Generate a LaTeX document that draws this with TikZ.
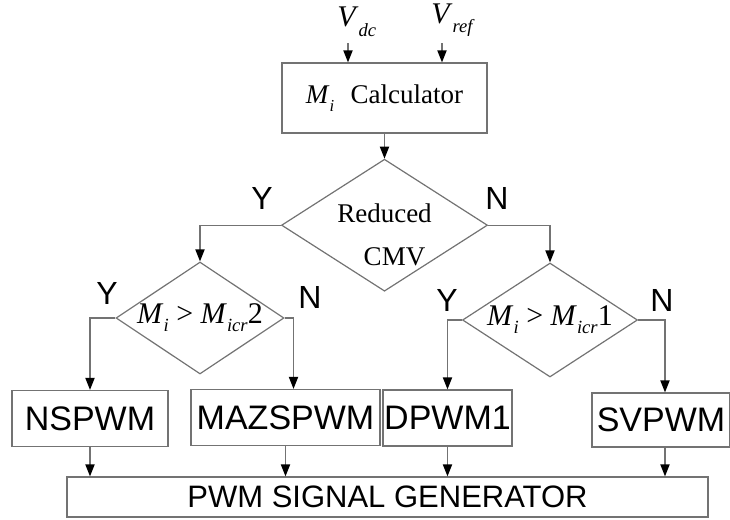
\documentclass[tikz,border=0pt]{standalone}
\usepackage{fontspec}
\setmainfont{Liberation Serif}
\setsansfont{Liberation Sans}
\usetikzlibrary{shapes.geometric,arrows.meta,positioning}
\definecolor{linegray}{RGB}{115,115,115}
\newcommand{\symb}[2]{\textit{#1}\raisebox{-0.6ex}{\scalebox{0.62}{\textit{#2}}}}
\tikzset{
  box/.style={rectangle,draw=linegray,line width=0.6pt,inner sep=0pt,
              font=\sffamily\fontsize{17}{20}\selectfont,minimum height=28pt},
  calcbox/.style={box,font=\fontsize{13.5}{16}\selectfont,minimum width=102.5pt,minimum height=35pt},
  dec/.style={diamond,draw=linegray,line width=0.6pt,inner sep=0pt,align=center,
              font=\fontsize{15}{17}\selectfont},
  yn/.style={font=\sffamily\fontsize{16}{18}\selectfont,inner sep=0pt},
  vin/.style={font=\fontsize{15}{17}\selectfont,inner sep=0pt},
  fl/.style={draw=linegray,line width=0.6pt,-{Triangle[length=6pt,width=4.6pt,color=black,fill=black]}},
}

\begin{document}
\begin{tikzpicture}[x=0.5pt,y=-0.5pt]
  \useasboundingbox (0,0) rectangle (730,520);
  % inputs and index calculator
  \node[calcbox] (calc) at (384.5,98) {\symb{M}{i}\hspace{0.6em}Calculator};
  \node[vin] (vdc) at (348,22) {\textit{V}\rlap{\raisebox{-0.7ex}{\scalebox{0.62}{\textit{dc}}}}};
  \node[vin] (vref) at (442,20) {\textit{V}\rlap{\raisebox{-0.7ex}{\scalebox{0.62}{\textit{ref}}}}};
  % decisions
  \node[dec,below=12.5pt of calc,minimum width=103pt,minimum height=66pt,shape aspect=1.56,
        inner sep=-3pt,font=\fontsize{13.5}{16}\selectfont] (cmv)
    {\rule{0pt}{19pt}Reduced\\[5.5pt]\hspace*{10pt}CMV};
  \node[dec,minimum width=83pt,minimum height=55pt,shape aspect=1.5] (mtwo) at (200,318)
    {\symb{M}{i} > \symb{M}{icr}2};
  \node[dec,minimum width=87.5pt,minimum height=57pt,shape aspect=1.5] (mone) at (550,320)
    {\symb{M}{i} > \symb{M}{icr}1};
  % modulation schemes
  \node[box,minimum width=78pt] (nspwm) at (90,418.5) {NSPWM};
  \node[box,minimum width=94.5pt] (maz) at (285.5,417.5) {MAZSPWM};
  \node[box,minimum width=64.5pt] (dpwm) at (447.5,418) {DPWM1};
  \node[box,minimum width=69pt,minimum height=27pt] (svpwm) at (661,420) {SVPWM};
  \node[box,minimum width=320.5pt,minimum height=20pt,font=\sffamily\fontsize{15.5}{18}\selectfont] (gen)
    at (387.5,497) {PWM SIGNAL GENERATOR};
  % branch labels
  \node[yn] (cmvy) at (262,198) {Y};
  \node[yn] (cmvn) at (497,198) {N};
  \node[yn] (mtwoy) at (107,293) {Y};
  \node[yn] (mtwon) at (310,297) {N};
  \node[yn] (money) at (447,300) {Y};
  \node[yn] (monen) at (662,300) {N};
  % connectors
  \draw[fl] ([yshift=-3pt]vdc.south) -- (vdc.south |- calc.north);
  \draw[fl] ([yshift=-3pt]vref.south) -- (vref.south |- calc.north);
  \draw[fl] (calc.south) -- (calc.south |- cmv.north);
  \draw[fl] (cmv.west) -| (mtwo.north);
  \draw[fl] (cmv.east) -| (mone.north);
  \draw[fl] (mtwo.west) -| (nspwm.north);
  \draw[fl] (mtwo.east) -| ([xshift=4pt]maz.north);
  \draw[fl] (mone.west) -| (dpwm.north);
  \draw[fl] (mone.east) -| ([xshift=2pt]svpwm.north);
  \draw[fl] (nspwm.south) -- (nspwm.south |- gen.north);
  \draw[fl] (maz.south) -- (maz.south |- gen.north);
  \draw[fl] (dpwm.south) -- (dpwm.south |- gen.north);
  \draw[fl] ([xshift=2pt]svpwm.south) -- ([xshift=2pt]svpwm.south |- gen.north);
\end{tikzpicture}
\end{document}
